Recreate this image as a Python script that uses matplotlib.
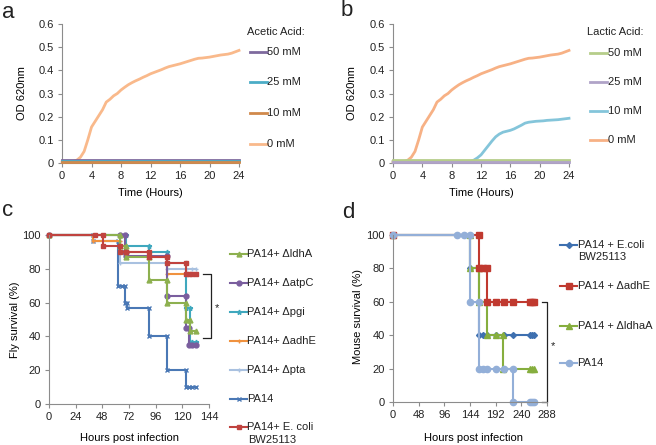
import matplotlib
matplotlib.use('Agg')
import matplotlib.pyplot as plt
from matplotlib.lines import Line2D

plt.rcParams['font.family'] = ['Liberation Sans', 'DejaVu Sans']
plt.rcParams['text.color'] = '#222222'

W, H = 656, 445

# ---- panel a / b : growth curves (OD 620nm vs hours) ----
hours = [i * 0.5 for i in range(49)]
od_0mM = [0.005, 0.005, 0.005, 0.006, 0.012, 0.025, 0.05, 0.10, 0.155, 0.18,
          0.205, 0.23, 0.263, 0.275, 0.29, 0.30, 0.315, 0.327, 0.338, 0.347,
          0.355, 0.362, 0.37, 0.377, 0.385, 0.391, 0.397, 0.403, 0.41, 0.416,
          0.42, 0.424, 0.428, 0.433, 0.438, 0.443, 0.448, 0.452, 0.453, 0.455,
          0.457, 0.46, 0.463, 0.466, 0.468, 0.47, 0.474, 0.48, 0.486]
lactic_10mM = [0.005] * 21 + [0.006, 0.012, 0.022, 0.035, 0.055, 0.075, 0.095,
               0.113, 0.125, 0.133, 0.137, 0.141, 0.147, 0.155, 0.163, 0.172,
               0.176, 0.178, 0.18, 0.181, 0.182, 0.184, 0.185, 0.186, 0.187,
               0.189, 0.191, 0.193]
flat_hours = [0, 4, 8, 12, 16, 20, 24]
acetic_50mM = [0.012, 0.012, 0.012, 0.012, 0.012, 0.012, 0.012]
acetic_25mM = [0.008, 0.008, 0.008, 0.008, 0.008, 0.008, 0.008]
acetic_10mM = [0.004, 0.004, 0.004, 0.004, 0.004, 0.004, 0.004]
lactic_50mM = [0.012, 0.012, 0.012, 0.012, 0.012, 0.012, 0.012]
lactic_25mM = [0.003, 0.003, 0.003, 0.003, 0.003, 0.003, 0.003]

conc_labels = ['50 mM', '25 mM', '10 mM', '0 mM']
acetic_colors = ['#7E6A9E', '#4BACC6', '#D0894B', '#F9B98B']
lactic_colors = ['#B6CD8A', '#B0A3C8', '#84C5DA', '#F7B185']

# ---- panel c : fly survival ----
fly_series = ['PA14+ \u0394ldhA', 'PA14+ \u0394atpC', 'PA14+ \u0394pgi', 'PA14+ \u0394adhE',
              'PA14+ \u0394pta', 'PA14', 'PA14+ E. coli\nBW25113']
fly_t = [
    [0, 64, 64, 69, 69, 90, 90, 106, 106, 123, 123, 127, 127, 132],
    [0, 64, 68, 68, 69, 69, 106, 106, 123, 123, 126, 126, 129, 132],
    [0, 69, 69, 90, 90, 106, 106, 123, 123, 127, 127, 129, 132],
    [0, 40, 40, 64, 64, 69, 69, 90, 90, 106, 106, 123, 127, 132],
    [0, 40, 40, 64, 64, 106, 106, 123, 129, 132],
    [0, 40, 40, 62, 62, 66, 68, 68, 70, 70, 90, 90, 106, 106, 123, 123, 126, 129, 132],
    [0, 41, 49, 49, 64, 64, 69, 69, 90, 90, 106, 106, 123, 123, 126, 129, 132],
]
fly_s = [
    [100, 100, 93.3, 93.3, 86.7, 86.7, 73.3, 73.3, 60, 60, 50, 50, 43.3, 43.3],
    [100, 100, 100, 90, 90, 87.5, 87.5, 64, 64, 45, 45, 35, 35, 35],
    [100, 100, 93.3, 93.3, 90, 90, 83.3, 83.3, 56.7, 56.7, 36.7, 36.7, 36.7],
    [100, 100, 96.7, 96.7, 93.3, 93.3, 90, 90, 86.7, 86.7, 76.7, 76.7, 76.7, 76.7],
    [100, 100, 96.7, 96.7, 83.3, 83.3, 80, 80, 80, 80],
    [100, 100, 96.7, 96.7, 70, 70, 70, 60, 60, 56.7, 56.7, 40, 40, 20, 20, 10, 10, 10, 10],
    [100, 100, 100, 93.3, 93.3, 90, 90, 90, 90, 86.7, 86.7, 83.3, 83.3, 76.7, 76.7, 76.7, 76.7],
]
fly_colors = ['#8DB04F', '#7A5E9E', '#3FA8BE', '#F0923F', '#A9C1E0', '#4A78B5', '#C0433F']
fly_markers = ['^', 'o', '*', '+', '+', 'x', 's']

# ---- panel d : mouse survival ----
mouse_series = ['PA14 + E.coli\nBW25113', 'PA14 + \u0394adhE', 'PA14 + \u0394ldhaA', 'PA14']
mouse_t = [
    [0, 144, 144, 160, 160, 168, 176, 192, 208, 224, 256, 260, 264],
    [0, 160, 160, 168, 176, 176, 192, 208, 224, 256, 260, 264],
    [0, 144, 144, 160, 160, 176, 176, 192, 206, 206, 256, 260, 264],
    [0, 120, 132, 144, 144, 160, 160, 168, 176, 192, 208, 224, 224, 256, 260, 264],
]
mouse_s = [
    [100, 100, 80, 80, 40, 40, 40, 40, 40, 40, 40, 40, 40],
    [100, 100, 80, 80, 80, 60, 60, 60, 60, 60, 60, 60],
    [100, 100, 80, 80, 60, 60, 40, 40, 40, 20, 20, 20, 20],
    [100, 100, 100, 100, 60, 60, 20, 20, 20, 20, 20, 20, 0, 0, 0, 0],
]
mouse_colors = ['#3E70B0', '#C0392F', '#86AE3E', '#93AFD8']
mouse_markers = ['D', 's', '^', 'o']
mouse_msize = [3, 4.5, 4.5, 4.5]


def px_axes(fig, x0, x1, ytop, ybot):
    return fig.add_axes([x0 / W, (H - ybot) / H, (x1 - x0) / W, (ybot - ytop) / H])


def style(ax):
    for s in ['top', 'right']:
        ax.spines[s].set_visible(False)
    for s in ['left', 'bottom']:
        ax.spines[s].set_color('#8C8C8C')
        ax.spines[s].set_linewidth(0.8)
    ax.tick_params(direction='out', length=3, width=0.8, color='#8C8C8C',
                   labelsize=8, pad=3, labelcolor='#222222')


def legend_entry(fig, x0, x1, y, color, text, marker=None, ms=4, lw=2, fs=8):
    fy = (H - y) / H
    ln = Line2D([x0 / W, (x0 + x1) / 2 / W, x1 / W], [fy, fy, fy], transform=fig.transFigure,
                color=color, lw=lw, marker=marker, markevery=[1], ms=ms,
                markerfacecolor=color, markeredgecolor=color)
    fig.add_artist(ln)
    fig.text(x1 / W + 0.5 / W, fy, text, fontsize=fs, va='center', ha='left', linespacing=1.1)


fig = plt.figure(figsize=(W / 100, H / 100), dpi=100)

# panel a
ax = px_axes(fig, 62, 239, 24, 163)
acetic_vals = [acetic_50mM, acetic_25mM, acetic_10mM]
for vals, c in zip(acetic_vals, acetic_colors[:3]):
    ax.plot(flat_hours, vals, color=c, lw=2, clip_on=False, zorder=3)
ax.plot(hours, od_0mM, color=acetic_colors[3], lw=2, clip_on=False, zorder=2)
ax.set_xlim(0, 24)
ax.set_ylim(0, 0.6)
ax.set_xticks(range(0, 25, 4))
ax.set_yticks([0, 0.1, 0.2, 0.3, 0.4, 0.5, 0.6])
ax.set_yticklabels(['0', '0.1', '0.2', '0.3', '0.4', '0.5', '0.6'])
style(ax)
ax.set_ylabel('OD 620nm', fontsize=8)
ax.set_xlabel('Time (Hours)', fontsize=8)
ax.yaxis.set_label_coords(-0.2, 0.5)
ax.xaxis.set_label_coords(0.5, -0.18)
fig.text(247 / W, (H - 32) / H, 'Acetic Acid:', fontsize=8, va='center')
for i, (lab, c) in enumerate(zip(conc_labels, acetic_colors)):
    legend_entry(fig, 250, 267, [52, 82, 113, 144][i], c, lab)

# panel b
ax = px_axes(fig, 393, 569, 24, 163)
lactic_vals = [lactic_50mM, lactic_25mM]
for vals, c in zip(lactic_vals, lactic_colors[:2]):
    ax.plot(flat_hours, vals, color=c, lw=2, clip_on=False, zorder=3)
ax.plot(hours, lactic_10mM, color=lactic_colors[2], lw=2, clip_on=False, zorder=2)
ax.plot(hours, od_0mM, color=lactic_colors[3], lw=2, clip_on=False, zorder=2)
ax.set_xlim(0, 24)
ax.set_ylim(0, 0.6)
ax.set_xticks(range(0, 25, 4))
ax.set_yticks([0, 0.1, 0.2, 0.3, 0.4, 0.5, 0.6])
ax.set_yticklabels(['0', '0.1', '0.2', '0.3', '0.4', '0.5', '0.6'])
style(ax)
ax.set_ylabel('OD 620nm', fontsize=8)
ax.set_xlabel('Time (Hours)', fontsize=8)
ax.yaxis.set_label_coords(-0.207, 0.5)
ax.xaxis.set_label_coords(0.5, -0.18)
fig.text(587 / W, (H - 32) / H, 'Lactic Acid:', fontsize=8, va='center')
for i, (lab, c) in enumerate(zip(conc_labels, lactic_colors)):
    legend_entry(fig, 590, 607, [53, 82, 111, 140][i], c, lab)

# panel c
ax = px_axes(fig, 49, 209, 235, 404)
order = [5, 4, 3, 2, 1, 0, 6]
for i in order:
    ax.plot(fly_t[i], fly_s[i], color=fly_colors[i], lw=1.5, marker=fly_markers[i],
            ms=3.5, mew=1, clip_on=False)
ax.set_xlim(0, 144)
ax.set_ylim(0, 100)
ax.set_xticks(range(0, 145, 24))
ax.set_yticks(range(0, 101, 20))
style(ax)
ax.set_ylabel('Fly survival (%)', fontsize=8)
ax.set_xlabel('Hours post infection', fontsize=8)
ax.yaxis.set_label_coords(-0.184, 0.497)
ax.xaxis.set_label_coords(0.506, -0.172)
ax.plot([139, 145.8, 145.8, 139], [77, 77, 39, 39], color='#222222', lw=0.9, clip_on=False)
ax.text(149, 57, '*', fontsize=8, ha='left', va='center')
for i, y in enumerate([254, 283, 312, 341, 370, 399, 427]):
    legend_entry(fig, 230, 247, y, fly_colors[i], fly_series[i].split('\n')[0],
                 marker=fly_markers[i], ms=3.5, lw=1.5)
fig.text(248.5 / W, (H - 440) / H, 'BW25113', fontsize=8, va='center')

# panel d
ax = px_axes(fig, 393, 547, 235, 402)
for i in [0, 2, 1, 3]:
    ax.plot(mouse_t[i], mouse_s[i], color=mouse_colors[i], lw=1.5, marker=mouse_markers[i],
            ms=mouse_msize[i], clip_on=False)
ax.set_xlim(0, 288)
ax.set_ylim(0, 100)
ax.set_xticks(range(0, 289, 48))
ax.set_yticks(range(0, 101, 20))
style(ax)
ax.set_ylabel('Mouse survival (%)', fontsize=8)
ax.set_xlabel('Hours post infection', fontsize=8)
ax.yaxis.set_label_coords(-0.198, 0.509)
ax.xaxis.set_label_coords(0.52, -0.186)
ax.plot([278, 288.5, 288.5, 278], [60, 60, 0, 0], color='#222222', lw=0.9, clip_on=False)
ax.text(296, 33.5, '*', fontsize=8, ha='left', va='center')
for i, y in enumerate([245, 286, 326, 363]):
    legend_entry(fig, 560, 577, y, mouse_colors[i], mouse_series[i].split('\n')[0],
                 marker=mouse_markers[i], ms=mouse_msize[i], lw=1.5)
fig.text(578.5 / W, (H - 257) / H, 'BW25113', fontsize=8, va='center')

# panel letters
for lab, x, y in [('a', 2, 12), ('b', 341, 10), ('c', 2, 211), ('d', 342, 212)]:
    fig.text(x / W, (H - y) / H, lab, fontsize=16, va='center', ha='left')

fig.savefig('out.png', dpi=100)
